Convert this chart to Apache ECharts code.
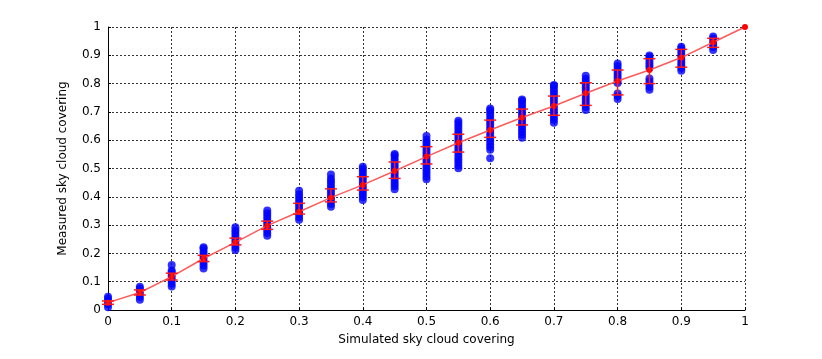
<!DOCTYPE html>
<html>
<head>
<meta charset="utf-8">
<script src="https://cdn.jsdelivr.net/npm/echarts@6/dist/echarts.min.js"></script>
<style>
html, body { margin: 0; padding: 0; background: #fff; }
#chart { width: 822px; height: 359px; }
</style>
</head>
<body>
<div id="chart"></div>
<script>
// simulated cloud covering (x) for each group
var simX = [0, 0.05, 0.1, 0.15, 0.2, 0.25, 0.3, 0.35, 0.4, 0.45, 0.5, 0.55, 0.6, 0.65, 0.7, 0.75, 0.8, 0.85, 0.9, 0.95];
// measured values (blue points), one list per group
var measured = [
    [0.01, 0.02, 0.03, 0.04, 0.047],
    [0.036, 0.046, 0.056, 0.066, 0.076, 0.082],
    [0.083, 0.093, 0.103, 0.113, 0.123, 0.133, 0.14, 0.159],
    [0.147, 0.157, 0.167, 0.177, 0.187, 0.197, 0.207, 0.217, 0.222],
    [0.212, 0.222, 0.232, 0.242, 0.252, 0.262, 0.272, 0.282, 0.292],
    [0.262, 0.272, 0.282, 0.292, 0.302, 0.312, 0.322, 0.332, 0.342, 0.352],
    [0.319, 0.329, 0.339, 0.349, 0.359, 0.369, 0.379, 0.389, 0.399, 0.409, 0.421],
    [0.365, 0.375, 0.385, 0.395, 0.405, 0.415, 0.425, 0.435, 0.445, 0.455, 0.465, 0.479],
    [0.389, 0.399, 0.409, 0.419, 0.429, 0.439, 0.449, 0.459, 0.469, 0.479, 0.489, 0.499, 0.506],
    [0.427, 0.437, 0.447, 0.457, 0.467, 0.477, 0.487, 0.497, 0.507, 0.517, 0.527, 0.537, 0.547, 0.551],
    [0.462, 0.472, 0.482, 0.492, 0.502, 0.512, 0.522, 0.532, 0.542, 0.552, 0.562, 0.572, 0.582, 0.592, 0.602, 0.615],
    [0.501, 0.511, 0.521, 0.531, 0.541, 0.551, 0.561, 0.571, 0.581, 0.591, 0.601, 0.611, 0.621, 0.631, 0.641, 0.651, 0.661, 0.669],
    [0.536, 0.566, 0.576, 0.586, 0.596, 0.606, 0.616, 0.626, 0.636, 0.646, 0.656, 0.666, 0.676, 0.686, 0.696, 0.706, 0.712],
    [0.609, 0.619, 0.629, 0.639, 0.649, 0.659, 0.669, 0.679, 0.689, 0.699, 0.709, 0.719, 0.729, 0.739, 0.744],
    [0.662, 0.672, 0.682, 0.692, 0.702, 0.712, 0.722, 0.732, 0.742, 0.752, 0.762, 0.772, 0.782, 0.792, 0.795],
    [0.707, 0.717, 0.727, 0.737, 0.747, 0.757, 0.767, 0.777, 0.787, 0.797, 0.807, 0.817, 0.828],
    [0.746, 0.756, 0.765, 0.802, 0.812, 0.822, 0.832, 0.842, 0.852, 0.862, 0.871],
    [0.778, 0.788, 0.798, 0.808, 0.818, 0.855, 0.865, 0.875, 0.885, 0.895, 0.899],
    [0.845, 0.855, 0.865, 0.875, 0.885, 0.895, 0.905, 0.915, 0.925, 0.93],
    [0.919, 0.929, 0.939, 0.949, 0.959, 0.966]
];
// mean per group, plus the end point (1, 1)
var meanX = [0, 0.05, 0.1, 0.15, 0.2, 0.25, 0.3, 0.35, 0.4, 0.45, 0.5, 0.55, 0.6, 0.65, 0.7, 0.75, 0.8, 0.85, 0.9, 0.95, 1];
var meanY = [0.026, 0.062, 0.118, 0.182, 0.239, 0.298, 0.347, 0.397, 0.442, 0.491, 0.542, 0.591, 0.636, 0.680, 0.721, 0.766, 0.809, 0.848, 0.892, 0.946, 1.0];
// error bar bounds per group
var errLow = [0.02, 0.053, 0.106, 0.171, 0.230, 0.285, 0.339, 0.382, 0.424, 0.465, 0.516, 0.558, 0.610, 0.654, 0.688, 0.723, 0.760, 0.800, 0.858, 0.928];
var errHigh = [0.032, 0.071, 0.130, 0.193, 0.254, 0.314, 0.377, 0.428, 0.471, 0.523, 0.577, 0.621, 0.671, 0.710, 0.756, 0.803, 0.848, 0.888, 0.921, 0.960];

var chart = echarts.init(document.getElementById('chart'));

var blueData = [];
for (var i = 0; i < simX.length; i++) {
    for (var j = 0; j < measured[i].length; j++) {
        blueData.push([simX[i], measured[i][j]]);
    }
}
var meanData = meanX.map(function (x, i) { return [x, meanY[i]]; });
var errData = simX.map(function (x, i) { return [x, errLow[i], errHigh[i]]; });

var font = 'DejaVu Sans';

var option = {
    backgroundColor: '#fff',
    animation: false,
    grid: { left: 108, right: 77, top: 27, bottom: 49 },
    xAxis: {
        type: 'value',
        min: 0, max: 1, interval: 0.1,
        name: 'Simulated sky cloud covering',
        nameLocation: 'middle',
        nameGap: 24,
        nameTextStyle: { fontFamily: font, fontSize: 12, color: '#000' },
        axisLine: { show: true, onZero: false, lineStyle: { color: '#000', width: 1 } },
        axisTick: { show: true, inside: true, length: 3, lineStyle: { color: '#000' } },
        axisLabel: { fontFamily: font, fontSize: 12, color: '#000', margin: 6 },
        splitLine: { show: true, lineStyle: { color: '#333', type: [2, 2], width: 1 } }
    },
    yAxis: {
        type: 'value',
        min: 0, max: 1, interval: 0.1,
        name: 'Measured sky cloud covering',
        nameLocation: 'middle',
        nameGap: 39,
        nameTextStyle: { fontFamily: font, fontSize: 12, color: '#000' },
        axisLine: { show: true, onZero: false, lineStyle: { color: '#000', width: 1 } },
        axisTick: { show: true, inside: true, length: 3, lineStyle: { color: '#000' } },
        axisLabel: { fontFamily: font, fontSize: 12, color: '#000', margin: 7 },
        splitLine: { show: true, lineStyle: { color: '#333', type: [2, 2], width: 1 } }
    },
    series: [{
        name: 'measured',
        type: 'scatter',
        symbolSize: 8,
        itemStyle: { color: '#0000ff' },
        data: blueData,
        z: 2
    }, {
        name: 'mean line',
        type: 'line',
        symbol: 'circle',
        symbolSize: 6,
        showSymbol: true,
        itemStyle: { color: '#ff0000' },
        lineStyle: { color: '#ff5a5a', width: 1.5 },
        data: meanData,
        z: 3
    }, {
        name: 'error',
        type: 'custom',
        data: errData,
        z: 4,
        renderItem: function (params, api) {
            var x = api.value(0);
            var lo = api.coord([x, api.value(1)]);
            var hi = api.coord([x, api.value(2)]);
            var w = 6;
            var style = { stroke: '#ff1a1a', lineWidth: 1.5 };
            return {
                type: 'group',
                children: [
                    { type: 'line', shape: { x1: lo[0], y1: lo[1], x2: hi[0], y2: hi[1] }, style: style },
                    { type: 'line', shape: { x1: lo[0] - w, y1: lo[1], x2: lo[0] + w, y2: lo[1] }, style: style },
                    { type: 'line', shape: { x1: hi[0] - w, y1: hi[1], x2: hi[0] + w, y2: hi[1] }, style: style }
                ]
            };
        }
    }]
};

chart.setOption(option);
</script>
</body>
</html>
